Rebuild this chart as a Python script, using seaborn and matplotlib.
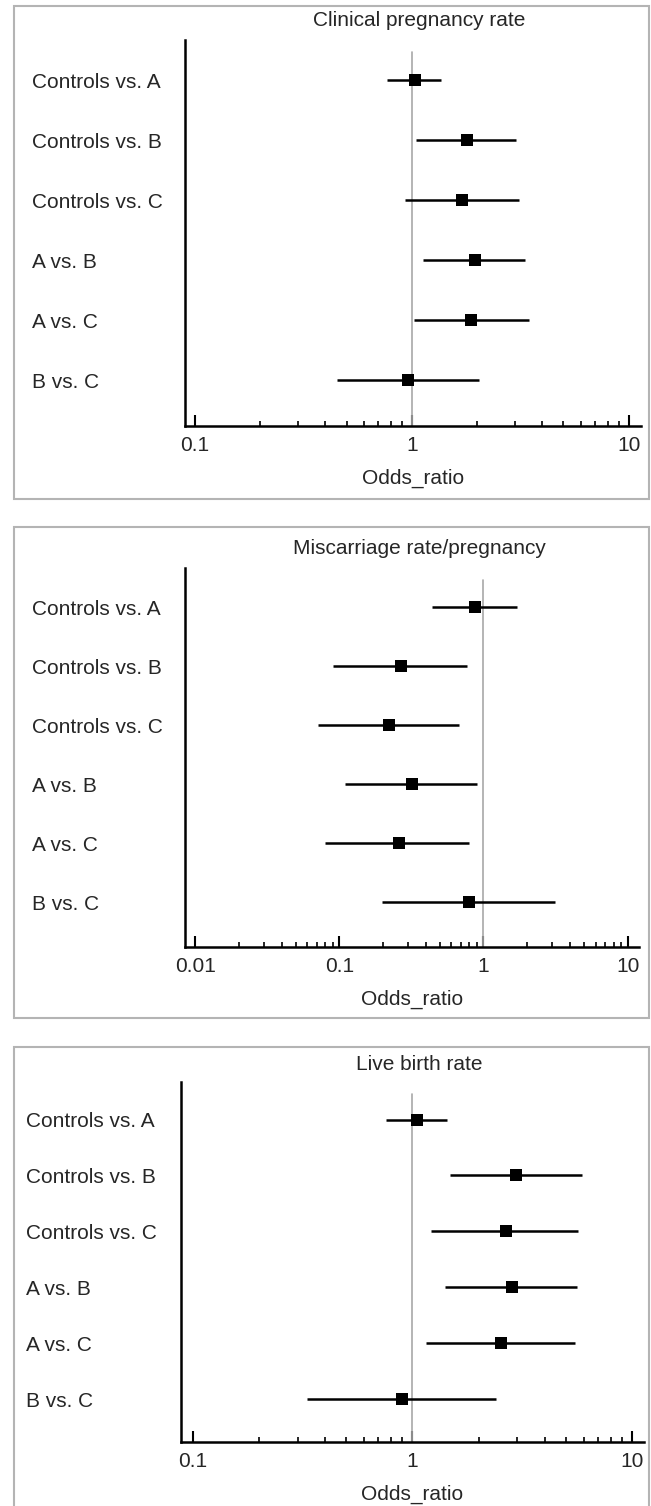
import pandas as pd
import seaborn as sns
import matplotlib.pyplot as plt
from matplotlib.patches import Rectangle
from matplotlib.ticker import FixedLocator, NullFormatter, FuncFormatter

# %% data
comparisons = ["Controls vs. A", "Controls vs. B", "Controls vs. C",
               "A vs. B", "A vs. C", "B vs. C"]

cpr_or = [1.04, 1.79, 1.71, 1.96, 1.87, 0.96]
cpr_lo = [0.77, 1.05, 0.93, 1.13, 1.02, 0.45]
cpr_hi = [1.36, 3.02, 3.13, 3.34, 3.46, 2.04]

mis_or = [0.875, 0.27, 0.22, 0.32, 0.26, 0.80]
mis_lo = [0.44, 0.09, 0.071, 0.11, 0.080, 0.197]
mis_hi = [1.70, 0.77, 0.68, 0.90, 0.79, 3.13]

lbr_or = [1.05, 2.96, 2.67, 2.84, 2.52, 0.90]
lbr_lo = [0.76, 1.48, 1.22, 1.40, 1.15, 0.33]
lbr_hi = [1.43, 5.89, 5.69, 5.58, 5.47, 2.40]

# %% style
sns.set_style("ticks")
plt.rcParams["font.family"] = ["Liberation Sans", "DejaVu Sans"]
plt.rcParams["font.size"] = 15

W, H = 651, 1506
fig = plt.figure(figsize=(W / 100, H / 100), dpi=100)


def px_rect(left, top, right, bottom):
    return [left / W, 1 - bottom / H, (right - left) / W, (bottom - top) / H]


panels = [
    # title, or, lo, hi, xlim, ticks, axes px, box px, title y, label x
    ("Clinical pregnancy rate", cpr_or, cpr_lo, cpr_hi, (0.09, 11.4), [0.1, 1, 10],
     (185, 40, 641, 426), (14, 6, 649, 499), 21, 32),
    ("Miscarriage rate/pregnancy", mis_or, mis_lo, mis_hi, (0.0085, 12.0), [0.01, 0.1, 1, 10],
     (185, 568, 639, 947), (14, 527, 649, 1018), 549, 32),
    ("Live birth rate", lbr_or, lbr_lo, lbr_hi, (0.0885, 11.3), [0.1, 1, 10],
     (181, 1082, 644, 1442), (14, 1047, 649, 1512), 1064, 26),
]

for title, ors, los, his, xlim, ticks, arect, brect, ty, lx in panels:
    # grey frame around the panel
    bx0, by0, bx1, by1 = brect
    fig.patches.append(Rectangle((bx0 / W, 1 - by1 / H), (bx1 - bx0) / W, (by1 - by0) / H,
                                 transform=fig.transFigure, fill=False,
                                 edgecolor="#b4b4b4", linewidth=1.5))

    ax = fig.add_axes(px_rect(*arect))
    df = pd.DataFrame({"comparison": comparisons, "pos": range(len(comparisons)),
                       "or": ors, "lo": los, "hi": his})

    ax.axvline(1, ymin=0, ymax=0.968, color="#a8a8a8", linewidth=1.2, zorder=1)
    ax.hlines(df["pos"], df["lo"], df["hi"], color="black", linewidth=1.8, zorder=2)
    sns.scatterplot(data=df, x="or", y="pos", marker="s", s=70, color="black",
                    edgecolor="black", linewidth=0, ax=ax, zorder=3)

    ax.set_xscale("log")
    ax.set_xlim(*xlim)
    ax.set_ylim(5.76, -0.67)
    ax.set_xticks(ticks)
    ax.xaxis.set_major_formatter(FuncFormatter(lambda v, p: "%g" % v))
    minors = [d * k for d in ticks[:-1] for k in range(2, 10)]
    ax.xaxis.set_minor_locator(FixedLocator(minors))
    ax.xaxis.set_minor_formatter(NullFormatter())
    ax.tick_params(axis="x", which="major", direction="in", length=8, width=1.5,
                   pad=7, labelsize=15, color="black")
    ax.tick_params(axis="x", which="minor", direction="in", length=3.5, width=1.2,
                   color="black")

    ax.set_yticks(df["pos"])
    ax.set_yticklabels(df["comparison"])
    ax.tick_params(axis="y", length=0, labelsize=15,
                   pad=(arect[0] - lx) * 0.72)
    for lab in ax.get_yticklabels():
        lab.set_horizontalalignment("left")

    ax.set_xlabel("Odds_ratio", fontsize=15, labelpad=10)
    ax.set_ylabel("")
    for side in ["top", "right"]:
        ax.spines[side].set_visible(False)
    for side in ["left", "bottom"]:
        ax.spines[side].set_linewidth(1.8)
        ax.spines[side].set_color("black")

    fig.text(419 / W, 1 - ty / H, title, ha="center", va="center", fontsize=15)

fig.savefig("out.png", dpi=100)
